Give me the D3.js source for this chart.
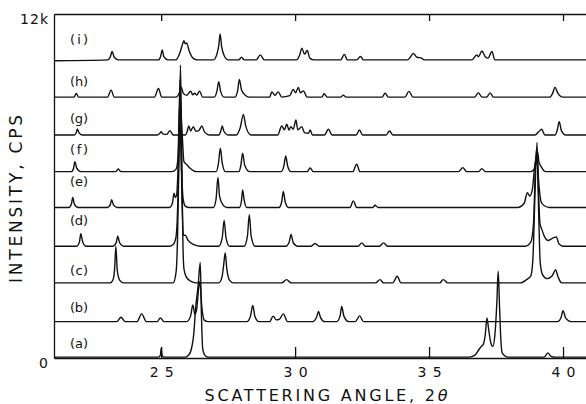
<!DOCTYPE html>
<html>
<head>
<meta charset="utf-8">
<script src="https://cdn.jsdelivr.net/npm/d3@7"></script>
<style>
  body { margin: 0; background: #fff; }
  svg { display: block; }
  text { font-family: "DejaVu Sans", sans-serif; fill: #111; }
</style>
</head>
<body>
<svg width="586" height="404"></svg>
<script>
// tick labels and trace names
var xTicks = [25, 30, 35, 40];
var yTicks = [0, 12000];
var yTickLabels = ["0", "12k"];
var traceNames = ["(a)", "(b)", "(c)", "(d)", "(e)", "(f)", "(g)", "(h)", "(i)"];
// vertical offset of each pattern (CPS)
var offsets = [30, 1270, 2620, 3900, 5250, 6500, 7780, 9100, 10400];

// [2theta, CPS above the pattern's own baseline]
var traceA = [[21.0,0],[24.9,0],[24.97,60],[25.0,315],[25.03,60],[25.1,0],
  [25.9,0],[26.05,100],[26.15,380],[26.22,830],[26.28,1640],[26.38,2500],[26.46,3300],[26.5,1600],[26.55,300],[26.62,80],[26.75,0],
  [36.5,0],[36.7,60],[36.85,250],[36.95,375],[37.02,435],[37.1,800],[37.16,1370],[37.22,1000],[37.3,520],[37.38,375],
  [37.46,800],[37.53,1900],[37.58,3000],[37.63,1800],[37.68,600],[37.73,155],[37.85,30],[37.95,0],
  [39.3,0],[39.43,150],[39.55,30],[39.7,0],[40.9,0]];

var traceB = [[21.0,0],[23.35,0],[23.5,150],[23.65,0],[24.1,0],[24.27,270],[24.45,0],[24.85,0],[24.97,130],[25.1,0],
  [25.95,0],[26.1,200],[26.18,580],[26.26,250],[26.32,400],[26.44,1400],[26.52,500],[26.6,60],[26.75,0],
  [28.2,0],[28.33,180],[28.42,560],[28.5,180],[28.65,0],[29.05,0],[29.18,190],[29.3,60],[29.42,90],[29.56,270],[29.72,0],
  [30.65,0],[30.8,150],[30.87,350],[30.95,140],[31.1,0],[31.55,0],[31.68,200],[31.74,525],[31.82,190],[32.0,0],
  [32.25,0],[32.41,200],[32.55,0],
  [39.8,0],[39.93,150],[40.0,380],[40.1,120],[40.3,0],[40.9,0]];

var traceC = [[21.0,0],[23.1,0],[23.2,100],[23.26,450],[23.31,1280],[23.36,450],[23.45,100],[23.6,0],
  [25.45,0],[25.56,400],[25.61,1500],[25.67,4500],[25.72,7600],[25.77,4500],[25.81,1500],[25.85,500],[25.93,220],[26.1,60],[26.3,0],
  [27.15,0],[27.27,200],[27.33,600],[27.39,1045],[27.45,500],[27.55,100],[27.7,0],
  [29.5,0],[29.68,115],[29.85,0],[33.0,0],[33.17,115],[33.3,0],[33.65,0],[33.81,230],[33.95,0],[35.4,0],[35.53,115],[35.7,0],
  [38.4,0],[38.64,115],[38.8,250],[38.88,900],[38.95,3000],[39.03,4900],[39.09,2500],[39.15,700],[39.24,280],[39.4,150],
  [39.6,250],[39.72,460],[39.82,200],[39.95,0],[40.9,0]];

var traceD = [[21.0,0],[21.85,0],[21.95,150],[22.0,440],[22.07,150],[22.2,0],[23.2,0],[23.32,120],[23.38,350],[23.45,120],[23.6,0],
  [25.3,0],[25.45,60],[25.55,300],[25.62,1500],[25.7,5800],[25.78,1500],[25.83,380],[25.9,380],[26.0,210],[26.2,60],[26.45,0],
  [27.15,0],[27.28,300],[27.35,900],[27.42,300],[27.55,0],
  [28.1,0],[28.22,350],[28.29,1100],[28.36,350],[28.5,0],
  [29.65,0],[29.78,150],[29.85,410],[29.93,120],[30.1,0],[30.6,0],[30.74,95],[30.9,0],[32.35,0],[32.49,115],[32.62,0],
  [33.15,0],[33.3,115],[33.45,0],
  [38.6,0],[38.8,150],[38.9,800],[38.97,2800],[39.02,3400],[39.08,2000],[39.14,800],[39.22,560],[39.3,350],[39.45,200],
  [39.62,280],[39.75,325],[39.85,80],[40.0,0],[40.9,0]];

var traceE = [[21.0,0],[21.55,0],[21.65,120],[21.7,350],[21.76,120],[21.9,0],[23.0,0],[23.1,100],[23.15,270],[23.22,90],[23.35,0],
  [25.3,0],[25.42,150],[25.48,500],[25.53,350],[25.58,450],[25.63,1300],[25.7,3000],[25.76,1300],[25.82,300],[25.9,50],[26.05,0],
  [26.95,0],[27.05,300],[27.12,1050],[27.18,400],[27.3,100],[27.45,0],[27.92,0],[28.0,250],[28.04,615],[28.1,250],[28.2,0],
  [29.4,0],[29.5,200],[29.56,560],[29.63,200],[29.75,0],
  [32.05,0],[32.17,230],[32.3,0],[32.9,0],[32.98,80],[33.1,0],
  [38.3,0],[38.55,150],[38.67,520],[38.75,400],[38.85,600],[38.95,1500],[39.02,1800],[39.1,800],[39.18,200],[39.3,60],[39.5,0],[40.9,0]];

var traceF = [[21.0,0],[21.65,0],[21.73,120],[21.78,350],[21.85,120],[22.0,0],[23.3,0],[23.4,95],[23.5,0],
  [25.4,0],[25.55,80],[25.62,400],[25.7,2500],[25.78,1400],[25.85,350],[25.95,250],[26.1,100],[26.3,0],
  [27.05,0],[27.14,300],[27.21,815],[27.28,300],[27.4,0],[27.9,0],[27.98,250],[28.04,640],[28.12,220],[28.3,0],
  [29.48,0],[29.58,200],[29.65,550],[29.72,200],[29.85,0],[30.45,0],[30.56,130],[30.68,0],
  [32.15,0],[32.3,260],[32.42,0],[36.1,0],[36.26,140],[36.4,0],[36.85,0],[36.97,105],[37.1,0],
  [38.8,0],[38.95,120],[39.0,350],[39.05,700],[39.1,350],[39.2,150],[39.35,0],[40.9,0]];

var traceG = [[21.0,0],[21.75,0],[21.83,80],[21.87,210],[21.93,80],[22.05,0],
  [24.85,0],[24.95,60],[25.0,115],[25.06,40],[25.2,20],[25.33,150],[25.45,0],
  [25.9,0],[25.97,120],[26.03,315],[26.1,140],[26.2,290],[26.3,130],[26.4,150],[26.52,315],[26.62,100],[26.8,0],
  [27.15,0],[27.23,150],[27.28,315],[27.34,130],[27.5,0],
  [27.8,0],[27.95,250],[28.07,720],[28.16,300],[28.35,0],
  [29.35,0],[29.5,315],[29.6,180],[29.69,375],[29.77,170],[29.84,290],[29.93,200],[30.03,520],[30.1,180],[30.25,290],
  [30.35,80],[30.5,60],[30.56,175],[30.65,0],
  [31.1,0],[31.24,200],[31.38,0],[32.28,0],[32.4,175],[32.52,0],[33.4,0],[33.52,140],[33.65,0],
  [38.95,0],[39.1,120],[39.2,200],[39.32,0],[39.7,0],[39.78,150],[39.86,460],[39.94,150],[40.1,0],[40.9,0]];

var traceH = [[21.0,0],[21.75,0],[21.83,130],[21.92,0],[23.0,0],[23.13,245],[23.25,0],[24.75,0],[24.9,300],[25.02,0],
  [25.55,0],[25.68,150],[25.75,350],[25.82,150],[25.95,60],[26.1,210],[26.18,80],[26.25,140],[26.33,70],[26.43,210],[26.55,0],
  [26.98,0],[27.08,200],[27.15,535],[27.22,200],[27.35,0],
  [27.75,0],[27.85,200],[27.92,620],[28.0,250],[28.15,60],[28.3,0],
  [29.05,0],[29.13,185],[29.25,60],[29.37,185],[29.5,0],[29.8,50],[29.93,270],[30.02,150],[30.12,340],[30.2,150],[30.31,220],[30.45,0],
  [31.0,0],[31.08,120],[31.2,0],[31.7,0],[31.8,70],[31.9,0],[33.25,0],[33.36,140],[33.48,0],[34.1,0],[34.25,200],[34.4,0],
  [36.7,0],[36.84,150],[36.98,0],[37.15,0],[37.28,150],[37.4,0],
  [39.5,0],[39.62,150],[39.7,350],[39.8,150],[40.0,0],[40.9,0]];

var traceI = [[21.0,-30],[23.0,0],[23.1,100],[23.17,290],[23.25,90],[23.4,0],[24.9,0],[24.98,120],[25.04,350],[25.1,110],[25.25,0],
  [25.55,0],[25.7,250],[25.8,550],[25.85,670],[25.9,560],[25.95,590],[26.05,300],[26.2,50],[26.35,0],
  [26.95,0],[27.08,200],[27.15,500],[27.2,900],[27.26,450],[27.35,150],[27.5,0],
  [27.9,0],[28.0,95],[28.1,0],[28.55,0],[28.7,175],[28.85,0],
  [30.05,0],[30.18,200],[30.25,410],[30.35,200],[30.45,325],[30.55,60],[30.7,0],
  [31.7,0],[31.84,190],[31.95,0],[32.3,0],[32.44,120],[32.55,0],
  [34.2,0],[34.32,120],[34.41,225],[34.55,90],[34.7,70],[34.82,0],
  [36.6,0],[36.78,175],[36.85,110],[36.97,310],[37.1,110],[37.2,60],[37.35,290],[37.45,0],[40.9,0]];

var traces = [traceA, traceB, traceC, traceD, traceE, traceF, traceG, traceH, traceI];

var svg = d3.select("svg");
var plotLeft = 54, plotTop = 14, plotBottom = 358;

var x = d3.scaleLinear().domain([21, 41]).range([plotLeft, plotLeft + 20 * 26.79]);
var y = d3.scaleLinear().domain([0, 12000]).range([plotBottom, plotTop]);

// patterns
traces.forEach(function(tr, i) {
  var line = d3.line()
    .x(function(d) { return x(d[0]); })
    .y(function(d) { return y(d[1] + offsets[i]); })
    .curve(d3.curveMonotoneX);
  svg.append("path")
    .datum(tr)
    .attr("fill", "none")
    .attr("stroke", "#111")
    .attr("stroke-width", 1.4)
    .attr("stroke-linejoin", "round")
    .attr("d", line);
});

// axes
var xAxis = svg.append("g")
  .attr("transform", "translate(0," + plotBottom + ")")
  .call(d3.axisBottom(x).tickValues(xTicks).tickSizeInner(-11).tickSizeOuter(0).tickPadding(9));
xAxis.selectAll("text")
  .attr("font-size", 14)
  .attr("font-family", "DejaVu Sans")
  .attr("textLength", 24)
  .attr("lengthAdjust", "spacing");

svg.append("g")
  .attr("transform", "translate(0," + plotTop + ")")
  .call(d3.axisTop(x).tickValues(xTicks).tickSizeInner(-7).tickSizeOuter(0).tickFormat(""));

var yAxis = svg.append("g")
  .attr("transform", "translate(" + plotLeft + ",0)")
  .call(d3.axisLeft(y).tickValues(yTicks).tickSize(0).tickPadding(5)
    .tickFormat(function(d, i) { return yTickLabels[i]; }));
yAxis.selectAll("text")
  .attr("font-size", 14)
  .attr("font-family", "DejaVu Sans")
  .attr("dy", "0.66em")
  .attr("letter-spacing", 1);

svg.selectAll(".domain, .tick line")
  .attr("stroke", "#111")
  .attr("stroke-width", 1.3);

// pattern labels
var labelLift = [9, 10, 8, 21, 22, 18, 12, 11, 16];
svg.selectAll("text.lab")
  .data(traceNames)
  .enter()
  .append("text")
  .attr("class", "lab")
  .attr("x", 70)
  .attr("y", function(d, i) { return y(offsets[i]) - labelLift[i]; })
  .attr("font-size", 13)
  .attr("textLength", 18)
  .attr("lengthAdjust", "spacing")
  .text(function(d) { return d; });

// axis titles
svg.append("text")
  .attr("transform", "translate(21.5,199) rotate(-90)")
  .attr("text-anchor", "middle")
  .attr("font-size", 17)
  .attr("textLength", 168)
  .attr("lengthAdjust", "spacing")
  .text("INTENSITY, CPS");

var xt = svg.append("text")
  .attr("x", 326)
  .attr("y", 401)
  .attr("text-anchor", "middle")
  .attr("font-size", 16)
  .attr("textLength", 243)
  .attr("lengthAdjust", "spacing");
xt.append("tspan").text("SCATTERING ANGLE, 2");
xt.append("tspan").attr("font-style", "italic").text("\u03b8");
</script>
</body>
</html>
